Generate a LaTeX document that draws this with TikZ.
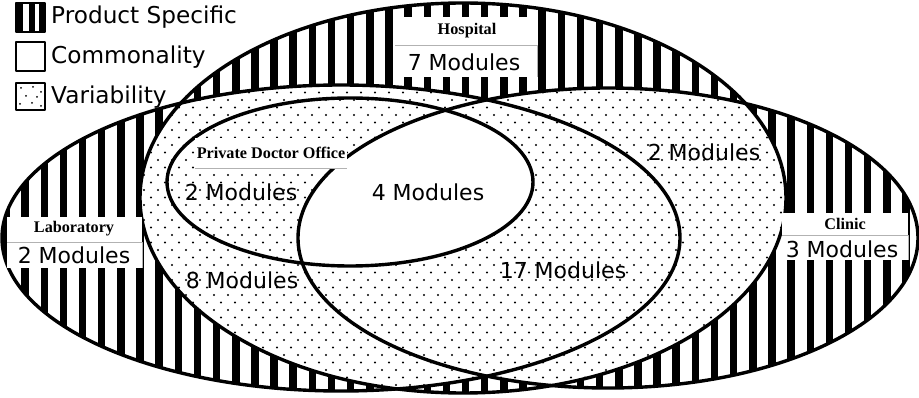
\documentclass[tikz,border=0pt]{standalone}
\usepackage{fontspec}
\setmainfont{DejaVu Sans}
\newfontfamily\serifbold{Liberation Serif}[BoldFont={Liberation Serif Bold}]
\newcommand\Hell{(463,198) ellipse [x radius=323, y radius=195]}
\newcommand\Lell{(341,238) ellipse [x radius=339, y radius=153]}
\newcommand\Cell{(608,238) ellipse [x radius=310, y radius=150]}
\newcommand\Pell{(350,182) ellipse [x radius=183, y radius=84]}
\newcommand\dotfield{%
  \foreach \j in {0,...,21}{%
    \foreach \i in {0,...,48}{%
      \fill ({130+\i*14},{85+\j*15}) circle[radius=1.2];
      \fill ({137+\i*14},{92.5+\j*15}) circle[radius=1.2];
    }%
  }%
}
\tikzset{
  outline/.style={draw=black, line width=3.4},
  modlabel/.style={font=\fontsize{22}{25}\selectfont, inner sep=0pt},
  legendlabel/.style={font=\fontsize{23.2}{26}\selectfont, inner sep=0pt, anchor=west},
  titlelabel/.style={font=\serifbold\bfseries\fontsize{16.2}{18}\selectfont, inner sep=0pt},
  graysep/.style={draw=black!30, line width=0.8},
  legendbox/.style={draw=black, line width=2.2}
}
\begin{document}
\begin{tikzpicture}[x=1pt,y=-1pt,line join=round]
\useasboundingbox (0,0) rectangle (919,398);
% product-specific stripes in the union
\begin{scope}
  \clip \Hell \Lell \Cell;
  \fill[white] (0,0) rectangle (919,398);
  \foreach \k in {-2,...,46}{\fill ({40.5+\k*19.15},0) rectangle ++(7.5,398);}
\end{scope}
% variability: pairwise intersections
\begin{scope}
  \clip \Hell; \clip \Lell;
  \fill[white] (0,0) rectangle (919,398);
  \dotfield
\end{scope}
\begin{scope}
  \clip \Hell; \clip \Cell;
  \fill[white] (0,0) rectangle (919,398);
  \dotfield
\end{scope}
\begin{scope}
  \clip \Lell; \clip \Cell;
  \fill[white] (0,0) rectangle (919,398);
  \dotfield
\end{scope}
% commonality
\begin{scope}
  \clip \Pell;
  \fill[white] \Cell;
\end{scope}
% outlines
\path[outline] \Hell;
\path[outline] \Lell;
\path[outline] \Cell;
\path[outline] \Pell;
% hospital box
\fill[white] (395,17) rectangle (537,77);
\draw[graysep] (395,45) -- (537,45) -- (537,77);
\node[titlelabel] (hosp) at (467,31) {Hospital};
\node[modlabel] (hospm) at (464,62) {7 Modules};
% laboratory box
\fill[white] (7,217) rectangle (142,268);
\draw[graysep] (7,242) -- (142,242) -- (142,268);
\node[titlelabel] (lab) at (74,229) {Laboratory};
\node[modlabel] (labm) at (74,255) {2 Modules};
% clinic box
\fill[white] (782,213) rectangle (908,260);
\draw[graysep] (782,235) -- (908,235) -- (908,260);
\node[titlelabel] (clin) at (845,224) {Clinic};
\node[modlabel] (clinm) at (842,249) {3 Modules};
% private doctor office box
\fill[white] (195,138) rectangle (347,168);
\draw[graysep] (195,168) -- (347,168);
\node[titlelabel] (pdo) at (271,153) {Private Doctor Office};
% region counts
\node[modlabel] (pdom) at (241,192) {2 Modules};
\node[modlabel] (comm) at (428,192) {4 Modules};
\node[modlabel] (hlm) at (242,280) {8 Modules};
\node[modlabel] (allm) at (563,270) {17 Modules};
\node[modlabel] (hcm) at (704,152) {2 Modules};
% legend
\fill (16,3) rectangle (23,32);
\fill (29,3) rectangle (35,32);
\fill (39,3) rectangle (45,32);
\draw[legendbox] (16,3) rectangle (45,32);
\draw[legendbox] (16,42) rectangle (45,71);
\draw[legendbox] (16,83) rectangle (45,110);
\foreach \p in {(21,88),(33,87),(41,92),(26,96),(20,104),(32,103),(41,106),(37,97)}{\fill \p circle[radius=1];}
\node[legendlabel] (lg1) at (51,17) {Product Specific};
\node[legendlabel] (lg2) at (51,57) {Commonality};
\node[legendlabel] (lg3) at (51,97) {Variability};
\end{tikzpicture}
\end{document}
